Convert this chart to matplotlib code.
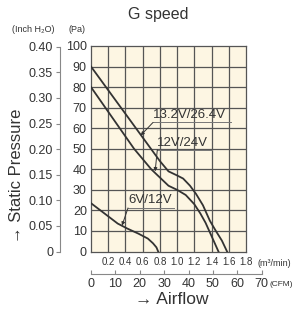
import matplotlib
matplotlib.use("Agg")
import matplotlib.pyplot as plt
import numpy as np

# ---- data ----
x_132 = [0, 0.2, 0.4, 0.6, 0.8, 0.9, 1.0, 1.07, 1.15, 1.22, 1.3, 1.38, 1.45, 1.52, 1.58]
p_132 = [90, 78.5, 67, 55.5, 44, 39, 37, 35.5, 32, 28, 22.5, 15, 10, 5.3, 0]

x_12 = [0, 0.2, 0.4, 0.5, 0.6, 0.7, 0.8, 0.9, 1.0, 1.1, 1.2, 1.27, 1.33, 1.4, 1.48]
p_12 = [80, 68, 56, 50, 45, 40, 36, 32, 30, 27.5, 23, 18.5, 14, 7.5, 0]

x_6 = [0, 0.16, 0.31, 0.42, 0.55, 0.66, 0.72, 0.76, 0.78]
p_6 = [23.5, 18.4, 13.6, 11.2, 8.7, 6.3, 4, 2, 0]

series_labels = ["13.2V/26.4V", "12V/24V", "6V/12V"]
pa_ticks = list(range(0, 101, 10))
m3_ticks = [0.2, 0.4, 0.6, 0.8, 1.0, 1.2, 1.4, 1.6, 1.8]
cfm_ticks = [0, 10, 20, 30, 40, 50, 60, 70]
inch_ticks = [0, 0.05, 0.10, 0.15, 0.20, 0.25, 0.30, 0.35, 0.40]
inch_labels = ["0", "0.05", "0.10", "0.15", "0.20", "0.25", "0.30", "0.35", "0.40"]

PA_PER_INCH = 249.089
CFM_PER_M3 = 35.315

NARROW = ["Liberation Sans", "DejaVu Sans"]
SANS = ["Liberation Sans", "DejaVu Sans"]
TXT = "#333333"
GRID = "#555555"

fig = plt.figure(figsize=(3.0, 3.14), dpi=100)
W, H = 300, 314
L, R, T, B = 91, 246, 46, 251.5
ax = fig.add_axes([L / W, 1 - B / H, (R - L) / W, (B - T) / H])
ax.set_facecolor("#fdf6e3")
ax.set_xlim(0, 1.8)
ax.set_ylim(0, 100)

for xv in np.arange(0.2, 1.8, 0.2):
    ax.axvline(xv, color=GRID, lw=0.9, zorder=1)
for yv in range(10, 100, 10):
    ax.axhline(yv, color=GRID, lw=0.9, zorder=1)
for s in ax.spines.values():
    s.set_color(GRID)
    s.set_linewidth(0.9)

lc = "#333333"
ax.plot(x_132, p_132, color=lc, lw=1.3, zorder=3, solid_joinstyle="round")
ax.plot(x_12, p_12, color=lc, lw=1.3, zorder=3, solid_joinstyle="round")
ax.plot(x_6, p_6, color=lc, lw=1.3, zorder=3, solid_joinstyle="round")

# Pa axis
ax.set_yticks(pa_ticks)
ax.set_yticklabels([str(v) for v in pa_ticks])
ax.tick_params(axis="y", length=0, pad=3, labelsize=9, labelcolor=TXT)
# m3/min axis
ax.set_xticks(m3_ticks)
ax.set_xticklabels([f"{v:.1f}" for v in m3_ticks])
ax.tick_params(axis="x", length=0, pad=4, labelsize=7, labelcolor=TXT)
for lab in ax.get_xticklabels() + ax.get_yticklabels():
    lab.set_family(NARROW)

# inch H2O axis
sec = ax.secondary_yaxis(-0.2, functions=(lambda p: p / PA_PER_INCH, lambda i: i * PA_PER_INCH))
sec.set_yticks(inch_ticks)
sec.set_yticklabels(inch_labels)
sec.tick_params(axis="y", direction="out", length=3, width=0.8, color="#888888",
                pad=2, labelsize=9, labelcolor=TXT)
sec.spines["left"].set_color("#888888")
sec.spines["left"].set_linewidth(0.8)
sec.spines["left"].set_bounds(0, 0.40)
for lab in sec.get_yticklabels():
    lab.set_family(NARROW)

# CFM axis (separate axes, scaled from the m3/min axes)
ax_w = (R - L) / W
cfm_w = ax_w * (70 / CFM_PER_M3) / 1.8
axc = fig.add_axes([L / W, 1 - 274 / H, cfm_w, 0.0001])
axc.set_xlim(0, 70)
axc.set_yticks([])
for k in ["top", "left", "right"]:
    axc.spines[k].set_visible(False)
axc.spines["bottom"].set_color("#888888")
axc.spines["bottom"].set_linewidth(0.8)
axc.patch.set_alpha(0)
axc.set_xticks(cfm_ticks)
axc.set_xticklabels([str(v) for v in cfm_ticks])
axc.tick_params(axis="x", direction="in", length=3, width=0.8, color="#888888",
                pad=3, labelsize=9, labelcolor=TXT)
for lab in axc.get_xticklabels():
    lab.set_family(NARROW)

# series labels with underline and leader
def label(text, x0, x1, ty, uy, tip):
    ax.text(x0, ty, text, fontsize=9.5, color=TXT, family=SANS, va="center", ha="left", zorder=5)
    ax.plot([x0, x1], [uy, uy], color="#777777", lw=0.7, zorder=4)
    ax.annotate("", xy=tip, xytext=(x0, uy),
                arrowprops=dict(arrowstyle="-|>", lw=0.7, color="#333333", mutation_scale=5,
                                shrinkA=0, shrinkB=0), zorder=4)

label(series_labels[0], 0.72, 1.62, 66.3, 62.8, (0.577, 56.5))
label(series_labels[1], 0.77, 1.41, 53.0, 49.5, (0.745, 39.0))
label(series_labels[2], 0.43, 0.96, 25.0, 21.2, (0.36, 12.6))

# texts
fig.text(158 / W, 1 - 14 / H, "G speed", ha="center", va="center", fontsize=11.5,
         color="#333333", family=SANS)
fig.text(33 / W, 1 - 29 / H, "(Inch H\u2082O)", ha="center", va="center", fontsize=6.5,
         color=TXT, family=SANS)
fig.text(77 / W, 1 - 29 / H, "(Pa)", ha="center", va="center", fontsize=6.5,
         color=TXT, family=SANS)
fig.text(258 / W, 1 - 263 / H, "(m\u00b3/min)", ha="left", va="center", fontsize=6.5,
         color=TXT, family=SANS)
fig.text(269 / W, 1 - 285 / H, "(CFM)", ha="left", va="center", fontsize=6,
         color=TXT, family=SANS)
fig.text(17 / W, 1 - 176 / H, "\u2192 Static Pressure", ha="center", va="center",
         rotation=90, fontsize=12, color="#333333", family=SANS)
fig.text(172 / W, 1 - 300 / H, "\u2192 Airflow", ha="center", va="center",
         fontsize=12.5, color="#333333", family=SANS)

fig.savefig("out.png", dpi=100, facecolor="white")
